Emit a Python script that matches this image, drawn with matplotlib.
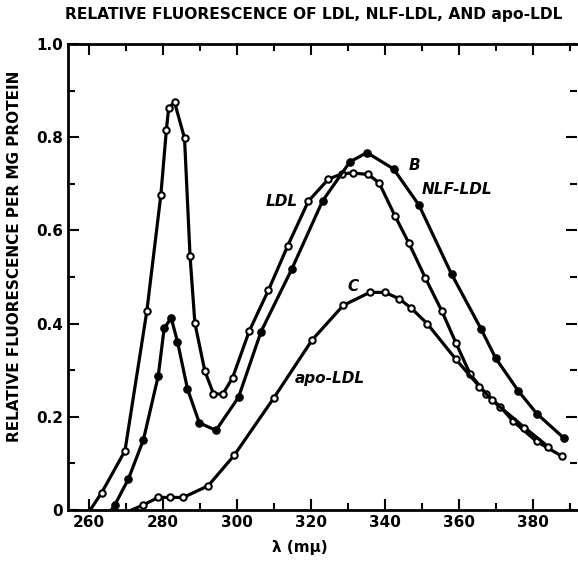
"""
Relative fluorescence of LDL, NLF-LDL and apo-LDL (re-drawn from a scanned figure)
"""

import matplotlib
matplotlib.use("Agg")
import matplotlib.pyplot as plt
from matplotlib.ticker import MultipleLocator

# values; first point of each list is where the
# drawn curve leaves the baseline (no symbol there)
ldl_x = [260.3, 263.4, 269.7, 275.6, 279.4, 280.9, 281.5, 283.1, 285.8, 287.3,
         288.6, 291.3, 293.6, 296.1, 298.8, 303.3, 308.5, 313.7, 319.3, 324.7,
         328.5, 331.4, 335.5, 338.4, 342.7, 346.5, 350.9, 355.3, 359.2, 363.0,
         367.2, 371.1, 374.7, 381.0, 387.9]
ldl_y = [0.0, 0.037, 0.127, 0.426, 0.676, 0.816, 0.862, 0.875, 0.798, 0.544,
         0.401, 0.298, 0.250, 0.248, 0.284, 0.384, 0.472, 0.567, 0.663, 0.710,
         0.722, 0.723, 0.720, 0.702, 0.631, 0.572, 0.498, 0.428, 0.358, 0.292,
         0.250, 0.222, 0.190, 0.147, 0.115]

nlf_x = [266.0, 266.9, 270.6, 274.7, 278.7, 280.3, 282.2, 283.9, 286.6, 289.8,
         294.3, 300.4, 306.5, 314.8, 323.1, 330.5, 335.1, 342.3, 349.2, 358.0,
         366.0, 369.9, 376.0, 381.0, 388.4]
nlf_y = [0.0, 0.010, 0.066, 0.151, 0.288, 0.390, 0.412, 0.361, 0.260, 0.187,
         0.171, 0.242, 0.383, 0.517, 0.663, 0.747, 0.767, 0.732, 0.654, 0.506,
         0.388, 0.326, 0.256, 0.207, 0.154]

apo_x = [271.5, 274.7, 278.7, 281.9, 285.5, 292.2, 299.2, 309.9, 320.3, 328.7,
         335.9, 340.0, 343.9, 347.1, 351.4, 359.2, 365.5, 369.0, 377.7, 384.1]
apo_y = [0.0, 0.011, 0.027, 0.027, 0.027, 0.052, 0.117, 0.240, 0.365, 0.439,
         0.467, 0.467, 0.453, 0.433, 0.400, 0.323, 0.265, 0.235, 0.177, 0.136]

# curve labels: (text, x, y)
curve_labels = [("LDL", 312.1, 0.662), ("B", 348.1, 0.740),
                ("NLF-LDL", 359.4, 0.688), ("C", 331.4, 0.479),
                ("apo-LDL", 325.1, 0.283)]

x_ticks = [260, 280, 300, 320, 340, 360, 380]
y_ticks = [0, 0.2, 0.4, 0.6, 0.8, 1.0]
y_tick_labels = ["0", "0.2", "0.4", "0.6", "0.8", "1.0"]


def make_plot():
    plt.rcParams['font.family'] = 'DejaVu Sans'
    fig = plt.figure(figsize=(5.78, 5.68), dpi=100)
    ax = fig.add_axes([68 / 578, 1 - 510 / 568, 509 / 578, 466 / 568])

    lw = 2.3
    ax.plot(ldl_x, ldl_y, color='black', lw=lw, marker='o', ms=4.6,
            mfc='white', mec='black', mew=1.5, markevery=range(1, len(ldl_x)))
    ax.plot(nlf_x, nlf_y, color='black', lw=lw, marker='o', ms=5.2,
            mfc='black', mec='black', markevery=range(1, len(nlf_x)))
    ax.plot(apo_x, apo_y, color='black', lw=lw, marker='o', ms=4.6,
            mfc='white', mec='black', mew=1.5, markevery=range(1, len(apo_x)))

    for txt, x, y in curve_labels:
        ax.text(x, y, txt, fontsize=11, fontweight='bold', style='italic',
                ha='center', va='center')

    ax.set_xlim(254.3, 391.9)
    ax.set_ylim(0, 1.0)
    ax.set_xticks(x_ticks)
    ax.set_yticks(y_ticks)
    ax.set_yticklabels(y_tick_labels)
    ax.xaxis.set_minor_locator(MultipleLocator(10))
    ax.yaxis.set_minor_locator(MultipleLocator(0.1))
    ax.tick_params(which='both', direction='in', top=True, right=True,
                   width=1.5, labelsize=11)
    ax.tick_params(which='major', length=8)
    ax.tick_params(which='minor', length=5)
    for lab in ax.get_xticklabels() + ax.get_yticklabels():
        lab.set_fontweight('bold')
    for side in ['left', 'bottom', 'top']:
        ax.spines[side].set_linewidth(2.0)
    ax.spines['right'].set_visible(False)

    ax.set_ylabel('RELATIVE FLUORESCENCE PER MG PROTEIN', fontsize=11,
                  fontweight='bold')
    ax.yaxis.set_label_coords(-0.09, 0.545)
    ax.set_xlabel('λ (mμ)', fontsize=11, fontweight='bold')
    ax.xaxis.set_label_coords(0.456, -0.065)

    fig.text(65 / 578, 1 - 14 / 568,
             'RELATIVE FLUORESCENCE OF LDL, NLF-LDL, AND apo-LDL',
             fontsize=11.2, fontweight='bold', ha='left', va='center')

    fig.savefig('out.png', dpi=100)


if __name__ == "__main__":
    make_plot()
